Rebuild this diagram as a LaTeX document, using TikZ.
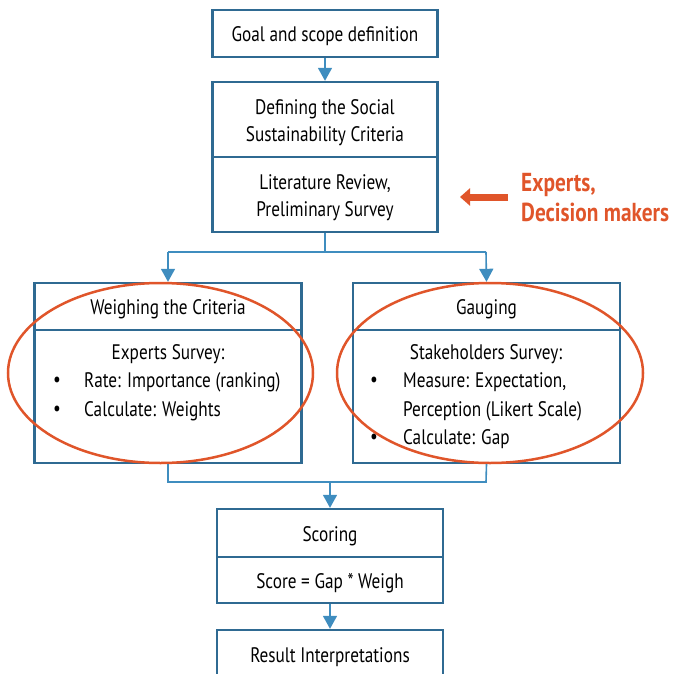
\documentclass[tikz,border=0pt]{standalone}
\usepackage{fontspec}
\setmainfont[FakeStretch=0.82]{PT Sans}
\usetikzlibrary{arrows.meta,shapes.geometric}
\definecolor{boxblue}{HTML}{2F6A92}
\definecolor{lineblue}{HTML}{3F8DBF}
\definecolor{orng}{HTML}{E0552A}
\tikzset{
  x=1pt,y=-1pt,
  box/.style={draw=boxblue,line width=2.4pt,fill=white,inner sep=0pt},
  lbl/.style={label={[align=center,inner sep=0pt,yshift=-3pt,font=\fontsize{21}{27}\selectfont]center:#1}},
  conn/.style={draw=lineblue,line width=1.6pt},
  tip/.style={-{Triangle[width=14pt,length=13pt]},lineblue},
  ring/.style={draw=orng,line width=2.5pt},
  txt/.style={font=\fontsize{21}{27}\selectfont,inner sep=0pt,anchor=west}
}
\begin{document}
\begin{tikzpicture}
\useasboundingbox (0,0) rectangle (672,674);
% top
\node[box,minimum width=225pt,minimum height=47pt,lbl={Goal and scope definition}] (goal) at (325,33.5) {};
\node[box,minimum width=225pt,minimum height=75pt,lbl={Defining the Social\\Sustainability Criteria}] (def1) at (325,119.5) {};
\node[box,minimum width=225pt,minimum height=75pt,lbl={Literature Review,\\Preliminary Survey}] (def2) at (325,194.5) {};
\draw[conn,tip] (goal.south) -- (def1.north);
% split
\coordinate (sp) at (325,252);
\coordinate (spl) at (168,252);
\coordinate (spr) at (486,252);
% left box
\node[box,minimum width=267pt,minimum height=47pt,lbl={Weighing the Criteria}] (wt) at (168,306.5) {};
\node[box,minimum width=267pt,minimum height=133pt] (wb) at (168,396.5) {};
% right box
\node[box,minimum width=267pt,minimum height=47pt,lbl={Gauging}] (gt) at (486.5,306.5) {};
\node[box,minimum width=267pt,minimum height=133pt] (gb) at (486.5,396.5) {};
\draw[conn] (def2.south) -- (sp) -- (spl);
\draw[conn] (sp) -- (spr);
\draw[conn,tip] (spl) -- (wt.north);
\draw[conn,tip] (spr) -- (gt.north);
% left contents
\node[txt,anchor=center] (wl0) at (168,354) {Experts Survey:};
\node[txt] (wb1) at (53,382) {•};
\node[txt] (wl1) at (84,382) {Rate: Importance (ranking)};
\node[txt] (wb2) at (53,411) {•};
\node[txt] (wl2) at (84,411) {Calculate: Weights};
% right contents
\node[txt,anchor=center] (gl0) at (486,354) {Stakeholders Survey:};
\node[txt] (gb1) at (370,382) {•};
\node[txt] (gl1) at (403,382) {Measure: Expectation,};
\node[txt] (gl1b) at (403,411) {Perception (Likert Scale)};
\node[txt] (gb2) at (370,439) {•};
\node[txt] (gl2) at (403,439) {Calculate: Gap};
% ellipses
\node[ring,ellipse,minimum width=305pt,minimum height=180pt] (el) at (160.5,373) {};
\node[ring,ellipse,minimum width=306pt,minimum height=180pt] (er) at (490,373) {};
% merge
\coordinate (ml) at (168,482);
\coordinate (mr) at (486,482);
\coordinate (mc) at (330,482);
\node[box,minimum width=226pt,minimum height=48pt,lbl={Scoring}] (sc1) at (330,533) {};
\node[box,minimum width=226pt,minimum height=46pt,lbl={Score = Gap * Weigh}] (sc2) at (330,580) {};
\node[box,minimum width=226pt,minimum height=56pt] (res) at (330,658) {};
\node[txt,anchor=center] (rest) at (330,657) {Result Interpretations};
\draw[conn] (wb.south) -- (ml) -- (mr) -- (gb.south);
\draw[conn,tip] (mc) -- (sc1.north);
\draw[conn,tip] (sc2.south) -- (res.north);
% experts arrow
\coordinate (ea) at (508,197);
\coordinate (eb) at (460,197);
\draw[orng,line width=7pt,-{Triangle[width=17pt,length=10pt]}] (ea) -- (eb);
\node[font=\bfseries\fontsize{26}{30}\selectfont,text=orng,align=left,anchor=west,inner sep=0pt] (exp) at (521,198) {Experts,\\Decision makers};
\end{tikzpicture}
\end{document}
